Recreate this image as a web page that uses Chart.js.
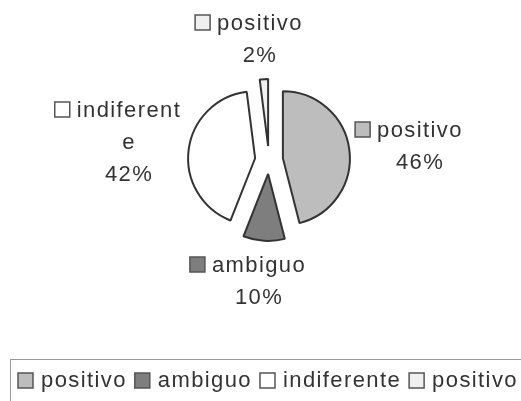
<!DOCTYPE html>
<html lang="es">
<head>
<meta charset="UTF-8">
<title>Pie</title>
<script src="https://cdn.jsdelivr.net/npm/chart.js@4.4.0/dist/chart.umd.min.js"></script>
<style>
  html, body { margin: 0; padding: 0; background: #ffffff; }
  .wrap { position: relative; width: 521px; height: 401px; }
</style>
</head>
<body>
<div class="wrap"><canvas id="pie"></canvas></div>
<script>
  const categories = ['positivo', 'ambiguo', 'indiferente', 'positivo'];
  const shares = [46, 10, 42, 2];
  const sliceColors = ['#bdbdbd', '#7e7e7e', '#ffffff', '#f0f0f0'];

  const FONT = '22px "Liberation Sans", Arial, sans-serif';
  const TEXT = '#333333';
  const LINE = 32;
  const EXPLODE = 14;
  // label text centre / first baseline, relative to the pie centre
  const labelSpots = [[151, -23], [-10, 112], [-140, -43], [-9, -130]];

  function wrapText(ctx, text, maxW) {
    if (ctx.measureText(text).width <= maxW) return [text];
    let i = text.length;
    while (i > 1 && ctx.measureText(text.slice(0, i)).width > maxW) i--;
    return [text.slice(0, i)].concat(wrapText(ctx, text.slice(i), maxW));
  }

  function swatch(ctx, x, y, color) {
    ctx.fillStyle = color;
    ctx.fillRect(x, y, 15, 15);
    ctx.strokeStyle = '#555555';
    ctx.lineWidth = 1.5;
    ctx.strokeRect(x, y, 15, 15);
  }

  // pull every slice out along its own middle angle
  const explodePlugin = {
    id: 'explode',
    afterDatasetUpdate(chart, args) {
      args.meta.data.forEach(arc => {
        const mid = (arc.startAngle + arc.endAngle) / 2;
        arc.x += Math.cos(mid) * EXPLODE;
        arc.y += Math.sin(mid) * EXPLODE;
      });
    }
  };

  const labelsPlugin = {
    id: 'sliceLabels',
    afterDraw(chart) {
      const ctx = chart.ctx;
      const area = chart.chartArea;
      const cx = (area.left + area.right) / 2, cy = (area.top + area.bottom) / 2;
      ctx.save();
      ctx.font = FONT;
      ctx.letterSpacing = '1.4px';
      ctx.textBaseline = 'alphabetic';

      categories.forEach((name, i) => {
        const lines = wrapText(ctx, name, 110).concat([shares[i] + '%']);
        const x = cx + labelSpots[i][0];
        const y = cy + labelSpots[i][1];
        ctx.textAlign = 'center';
        ctx.fillStyle = TEXT;
        lines.forEach((t, k) => ctx.fillText(t, x, y + k * LINE));
        const w = ctx.measureText(lines[0]).width;
        swatch(ctx, x - w / 2 - 22, y - 15, sliceColors[i]);
      });

      // legend
      ctx.strokeStyle = '#9a9a9a';
      ctx.lineWidth = 1;
      ctx.strokeRect(10.5, 359.5, 600, 100);
      let lx = 18;
      const ly = 387;
      ctx.textAlign = 'left';
      categories.forEach((name, i) => {
        swatch(ctx, lx, ly - 14, sliceColors[i]);
        lx += 23;
        ctx.fillStyle = TEXT;
        ctx.fillText(name, lx, ly);
        lx += ctx.measureText(name).width + 8;
      });
      ctx.restore();
    }
  };

  new Chart(document.getElementById('pie'), {
    type: 'pie',
    data: {
      labels: categories,
      datasets: [{
        data: shares,
        backgroundColor: sliceColors,
        borderColor: '#333333',
        borderWidth: 2
      }]
    },
    options: {
      responsive: true,
      maintainAspectRatio: false,
      animation: false,
      radius: 67,
      layout: { padding: { left: 17, right: 0, top: 0, bottom: 81 } },
      plugins: {
        legend: { display: false },
        tooltip: { enabled: false }
      }
    },
    plugins: [explodePlugin, labelsPlugin]
  });
</script>
</body>
</html>
